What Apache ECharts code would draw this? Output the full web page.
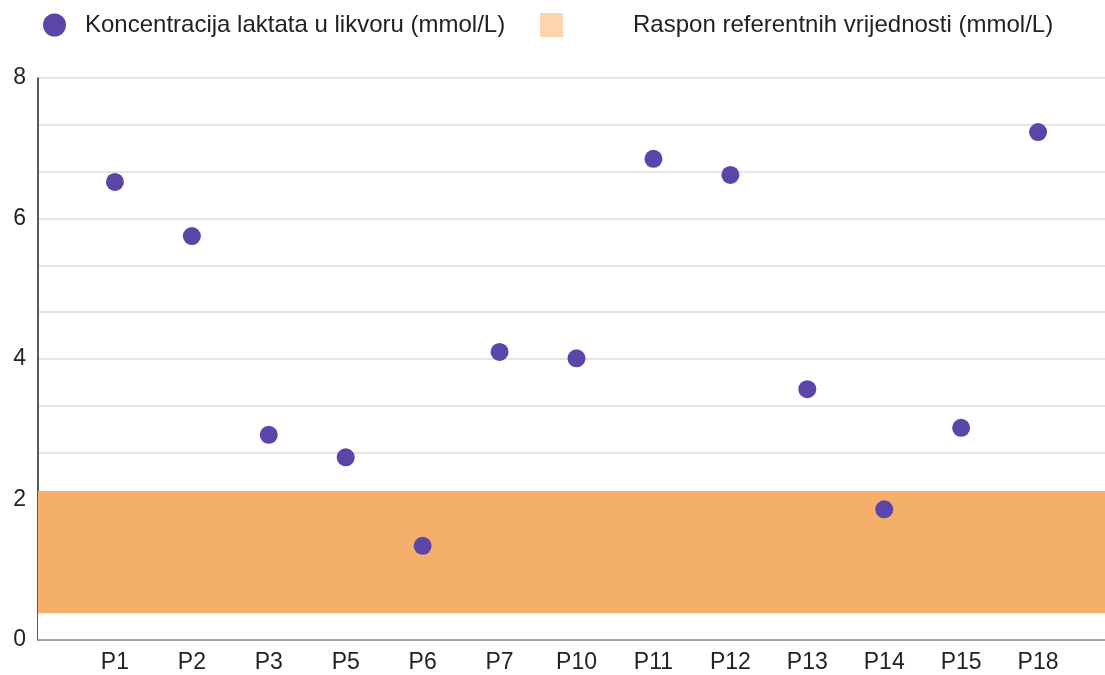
<!DOCTYPE html>
<html lang="hr" style="height: 100%">
<head>
  <meta charset="utf-8">
</head>
<body style="height: 100%; margin: 0">
  <div id="container" style="width: 1105px; height: 675px;"></div>

  <script type="text/javascript" src="https://fastly.jsdelivr.net/npm/echarts@6.0.0/dist/echarts.min.js"></script>

  <script type="text/javascript">
    // patients (blank slots at both ends give the empty margin left/right)
    var patients = ['', 'P1', 'P2', 'P3', 'P5', 'P6', 'P7', 'P10', 'P11', 'P12', 'P13', 'P14', 'P15', 'P18', ''];
    var lactate = ['-', 6.52, 5.75, 2.92, 2.60, 1.34, 4.10, 4.01, 6.85, 6.62, 3.57, 1.86, 3.02, 7.23, '-'];
    var refLow = 0.38;
    var refHigh = 2.12;
    var bandSlots = patients.map(function () { return '-'; });

    var nameLactate = 'Koncentracija laktata u likvoru (mmol/L)';
    var nameRef = 'Raspon referentnih vrijednosti (mmol/L)';
    var font = 'Arial, "Liberation Sans", sans-serif';

    var dom = document.getElementById('container');
    var myChart = echarts.init(dom, null, { renderer: 'canvas' });

    var option = {
      animation: false,
      textStyle: { fontFamily: font },
      legend: [
        {
          left: 43,
          top: 13,
          padding: 0,
          itemWidth: 23,
          itemHeight: 23,
          selectedMode: false,
          data: [{ name: nameLactate, icon: 'circle' }],
          textStyle: { fontSize: 24, color: '#222', fontFamily: font, padding: [0, 0, 0, 14] }
        },
        {
          left: 540,
          top: 13,
          padding: 0,
          itemWidth: 23,
          itemHeight: 24,
          selectedMode: false,
          data: [{ name: nameRef, icon: 'rect', itemStyle: { color: '#fcd5b0' } }],
          textStyle: { fontSize: 24, color: '#222', fontFamily: font, padding: [0, 0, 0, 65] }
        }
      ],
      grid: { left: 38, top: 78, width: 1077, height: 562, outerBoundsMode: 'none' },
      xAxis: {
        type: 'category',
        data: patients,
        boundaryGap: false,
        z: 5,
        axisLine: { lineStyle: { color: '#8a8a8a', width: 1.5 } },
        axisTick: { show: false },
        splitLine: { show: false },
        axisLabel: { fontSize: 23, color: '#222', margin: 11, fontFamily: font }
      },
      yAxis: {
        type: 'value',
        min: 0,
        max: 8,
        interval: 2,
        axisLine: { show: true, lineStyle: { color: '#222', width: 1.5 } },
        axisTick: { show: false },
        axisLabel: { fontSize: 23, color: '#222', margin: 12, fontFamily: font },
        splitLine: { lineStyle: { color: '#dcdcdc', width: 1.5 } },
        minorTick: { show: false, splitNumber: 3 },
        minorSplitLine: { show: true, lineStyle: { color: '#dcdcdc', width: 1.5 } }
      },
      series: [
        {
          name: nameRef,
          type: 'line',
          z: 2,
          data: bandSlots,
          symbol: 'none',
          itemStyle: { color: '#fcd5b0' },
          lineStyle: { opacity: 0 },
          silent: true,
          markArea: {
            silent: true,
            data: [
              [{ yAxis: 0, itemStyle: { color: '#ffffff' } }, { yAxis: refLow }],
              [{ yAxis: refLow, itemStyle: { color: '#f4b06a' } }, { yAxis: refHigh }]
            ]
          }
        },
        {
          name: nameLactate,
          type: 'scatter',
          z: 4,
          data: lactate,
          symbolSize: 18,
          itemStyle: { color: '#5c45a8', opacity: 1 }
        }
      ]
    };

    myChart.setOption(option);
    window.addEventListener('resize', myChart.resize);
  </script>
</body>
</html>
